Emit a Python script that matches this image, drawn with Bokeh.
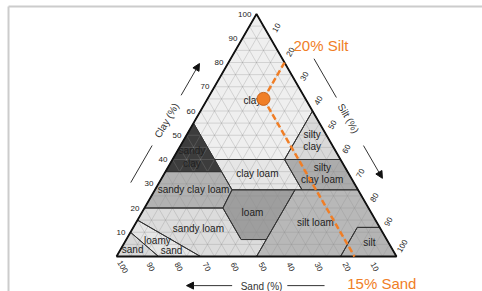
import math
from bokeh.plotting import figure
from bokeh.models import Range1d, Arrow, NormalHead, Label
from bokeh.core.properties import value
from bokeh.embed import file_html
from bokeh.resources import INLINE

FONT = "Liberation Sans"
ORANGE = "#F07E26"
H = math.sqrt(3) / 2

# ---------------- data ----------------
tick_values = [10, 20, 30, 40, 50, 60, 70, 80, 90, 100]
grid_values = list(range(5, 100, 5))

region_names = ["clay", "sandy clay", "silty clay", "sandy clay loam", "clay loam",
                "silty clay loam", "loam", "silt loam", "silt", "sandy loam",
                "loamy sand", "sand"]
# polygon vertices in % sand / % silt (clay = 100 - sand - silt)
region_sand = [
    [0, 45, 45, 20, 0],
    [45, 65, 45],
    [0, 20, 0],
    [80, 65, 45, 45, 52],
    [45, 20, 20, 45, 45],
    [20, 0, 0, 20],
    [45, 52, 52, 43, 22.5],
    [22.5, 20, 0, 0, 8, 20, 50],
    [20, 8, 0, 0],
    [85, 80, 52, 52, 43, 50, 70],
    [90, 85, 70, 85],
    [100, 90, 85],
]
region_silt = [
    [0, 0, 15, 40, 40],
    [0, 0, 20],
    [40, 40, 60],
    [0, 0, 20, 27.5, 28],
    [15, 40, 52.5, 27.5, 20],
    [40, 60, 72.5, 52.5],
    [27.5, 28, 41, 50, 50],
    [50, 52.5, 72.5, 88, 80, 80, 50],
    [80, 80, 88, 100],
    [0, 0, 28, 41, 50, 50, 30],
    [0, 0, 30, 15],
    [0, 0, 15],
]
region_fill = ["#efefef", "#3c3c3c", "#d9d9d9", "#b2b2b2", "#e6e6e6", "#acacac",
               "#9e9e9e", "#b8b8b8", "#b4b4b4", "#dcdcdc", "#e6e6e6", "#d8d8d8"]

# region label lines and their positions (% sand, % silt)
label_text = ["clay", "sandy", "clay", "sandy clay loam", "clay loam", "loam",
              "sandy loam", "loamy", "sand", "sand", "silty", "clay", "silty",
              "clay loam", "silt loam", "silt"]
label_sand = [19.3, 51.2, 53.9, 58.7, 32.6, 42.4, 65.0, 82.1, 79.1, 92.8, 5.0, 7.4, 8.2, 10.7, 21.9, 6.7]
label_silt = [16.4, 5.1, 7.8, 13.7, 33.2, 39.5, 23.5, 11.3, 18.4, 4.3, 44.7, 47.2, 55.2, 57.6, 64.0, 87.4]

# highlighted sample
hl_sand = 15
hl_silt = 20


def tern(sand, silt):
    clay = 100 - sand - silt
    return silt + clay / 2, clay * H


# ---------------- figure ----------------
W, HGT = 482, 291
p = figure(width=W, height=HGT, output_backend="svg", toolbar_location=None,
           x_range=Range1d(-41.429, 130.714), y_range=Range1d(-12.5, 91.429),
           min_border=0, outline_line_color=None, background_fill_color="white",
           border_fill_color="white")
p.axis.visible = False
p.xgrid.visible = False
p.ygrid.visible = False

# frame lines (top and left)
p.line(x=[-38.57, -38.57], y=[-12.5, 89.29], line_color="#cccccc", line_width=2)
p.line(x=[-38.57, 130.714], y=[89.29, 89.29], line_color="#cccccc", line_width=2)

# region fills
xs, ys = [], []
for sa, si in zip(region_sand, region_silt):
    pts = [tern(a, b) for a, b in zip(sa, si)]
    xs.append([q[0] for q in pts])
    ys.append([q[1] for q in pts])
p.patches(xs=xs, ys=ys, fill_color=region_fill, line_color=None)

# grid
gx, gy = [], []
for v in grid_values:
    for a, b in ((tern(100 - v, 0), tern(0, 100 - v)),      # clay = v
                 (tern(v, 100 - v), tern(v, 0)),            # sand = v
                 (tern(100 - v, v), tern(0, v))):           # silt = v
        gx.append([a[0], b[0]])
        gy.append([a[1], b[1]])
p.multi_line(xs=gx, ys=gy, line_color="#8c8c8c", line_width=0.5, line_alpha=0.6)

# region boundaries
p.patches(xs=xs, ys=ys, fill_color=None, line_color="#333333", line_width=1)

# outer triangle
tri = [tern(100, 0), tern(0, 100), tern(0, 0), tern(100, 0)]
p.line(x=[q[0] for q in tri], y=[q[1] for q in tri], line_color="#111111", line_width=1.8)

# region labels
lp = [tern(a, b) for a, b in zip(label_sand, label_silt)]
p.text(x=[q[0] for q in lp], y=[q[1] for q in lp], text=label_text,
       text_font=value(FONT), text_font_size=value("10px"), text_color="#222222",
       text_align="center", text_baseline="middle")

# tick labels
d = 4.3
tl = [str(v) for v in tick_values]
# clay (left)
cx = [tern(100 - v, 0)[0] - 1.8 for v in tick_values]
cy = [tern(100 - v, 0)[1] for v in tick_values]
p.text(x=cx, y=cy, text=tl, text_font=value(FONT), text_font_size=value("8px"),
       text_color="#222222", text_align="right", text_baseline="middle")
# sand (bottom)
sx = [tern(v, 100 - v)[0] + 0.5 * d for v in tick_values]
sy = [tern(v, 100 - v)[1] - H * d for v in tick_values]
p.text(x=sx, y=sy, text=tl, angle=-math.pi / 3, text_font=value(FONT),
       text_font_size=value("8px"), text_color="#222222", text_align="center",
       text_baseline="middle")
# silt (right)
tx_ = [tern(0, v)[0] + 0.5 * d for v in tick_values]
ty_ = [tern(0, v)[1] + H * d for v in tick_values]
p.text(x=tx_, y=ty_, text=tl, angle=math.pi / 3, text_font=value(FONT),
       text_font_size=value("8px"), text_color="#222222", text_align="center",
       text_baseline="middle")


# axis titles & arrows
def left_pt(t, off):
    return t * 0.5 - off * H, t * H + off * 0.5


def right_pt(s, off):
    ax, ay = 50.0, 100 * H
    return ax + s * 0.5 + off * H, ay - s * H + off * 0.5


LC = "#333333"
a0, a1 = left_pt(25.4, 8.8), left_pt(40.7, 8.8)
p.line(x=[a0[0], a1[0]], y=[a0[1], a1[1]], line_color=LC, line_width=1)
a0, a1 = left_pt(61.4, 8.8), left_pt(74.5, 8.8)
p.add_layout(Arrow(x_start=a0[0], y_start=a0[1], x_end=a1[0], y_end=a1[1],
                   line_color=LC, line_width=1,
                   end=NormalHead(size=7, fill_color="#111111", line_color="#111111")))
c = left_pt(51, 8.8)
p.add_layout(Label(x=c[0], y=c[1], text="Clay (%)", angle=math.pi / 3,
                   text_font=FONT, text_font_size="10px", text_color="#333333",
                   text_align="center", text_baseline="middle"))

a0, a1 = right_pt(24.1, 9.8), right_pt(40.1, 9.8)
p.line(x=[a0[0], a1[0]], y=[a0[1], a1[1]], line_color=LC, line_width=1)
a0, a1 = right_pt(59.8, 9.6), right_pt(73.3, 9.6)
p.add_layout(Arrow(x_start=a0[0], y_start=a0[1], x_end=a1[0], y_end=a1[1],
                   line_color=LC, line_width=1,
                   end=NormalHead(size=7, fill_color="#111111", line_color="#111111")))
c = right_pt(48.7, 9.8)
p.add_layout(Label(x=c[0], y=c[1], text="Silt (%)", angle=-math.pi / 3,
                   text_font=FONT, text_font_size="10px", text_color="#333333",
                   text_align="center", text_baseline="middle"))

SY = -10.4
p.line(x=[61.0, 74.3], y=[SY, SY], line_color=LC, line_width=1)
p.add_layout(Arrow(x_start=41.3, y_start=SY, x_end=25.0, y_end=SY,
                   line_color=LC, line_width=1,
                   end=NormalHead(size=7, fill_color="#111111", line_color="#111111")))
p.add_layout(Label(x=51.8, y=SY - 0.2, text="Sand (%)", text_font=FONT,
                   text_font_size="10px", text_color="#333333",
                   text_align="center", text_baseline="middle"))

# highlighted sample: silt line and sand line
pt = tern(hl_sand, hl_silt)
e_silt = tern(0, hl_silt)
e_sand = tern(hl_sand, 100 - hl_sand)
p.line(x=[e_silt[0], pt[0]], y=[e_silt[1], pt[1]], line_color=ORANGE, line_width=2.5,
       line_dash="6 3")
p.line(x=[pt[0], e_sand[0]], y=[pt[1], e_sand[1]], line_color=ORANGE, line_width=2.5,
       line_dash="6 3")
p.scatter(x=[pt[0]], y=[pt[1]], size=13, fill_color=ORANGE, line_color="#c8631c",
          line_width=1)

p.add_layout(Label(x=e_silt[0] + 3.2, y=e_silt[1] + 6.1, text=f"{hl_silt}% Silt",
                   text_font=FONT, text_font_size="15px", text_color=ORANGE,
                   text_align="left", text_baseline="middle"))
p.add_layout(Label(x=e_sand[0] - 2.6, y=-9.64, text=f"{hl_sand}% Sand",
                   text_font=FONT, text_font_size="15px", text_color=ORANGE,
                   text_align="left", text_baseline="middle"))

open("out.html", "w").write(file_html(p, INLINE))
